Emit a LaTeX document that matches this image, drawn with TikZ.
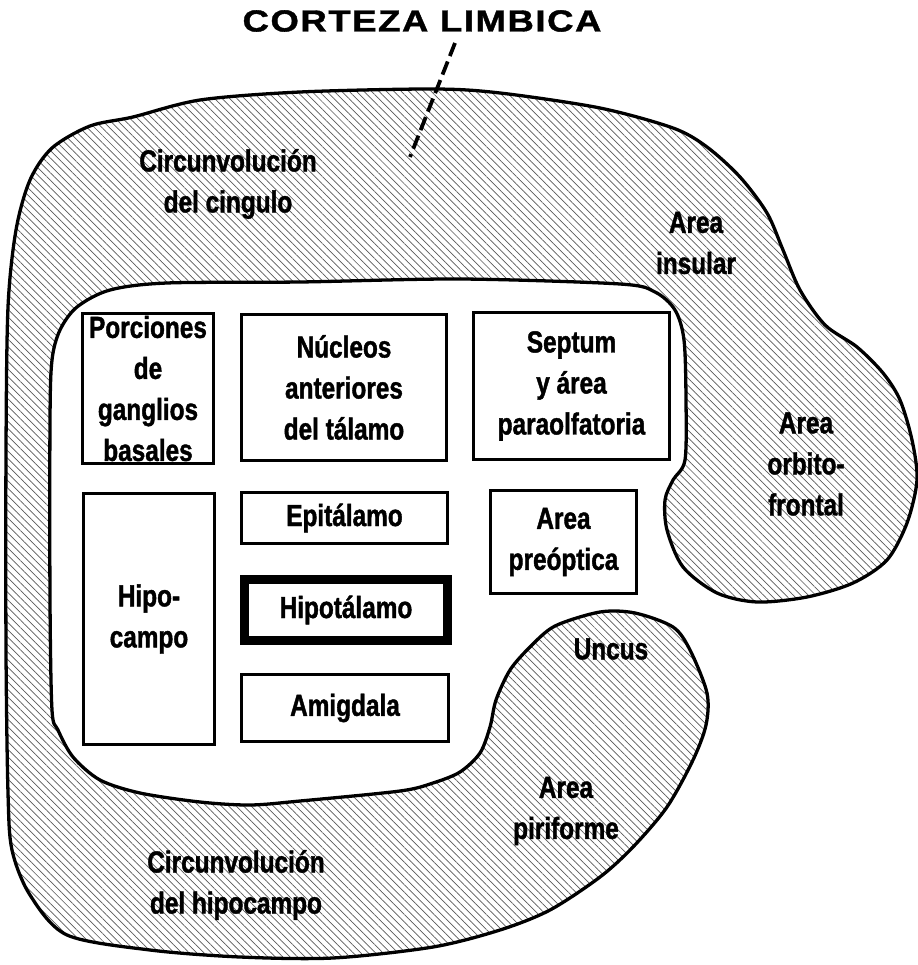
\documentclass[tikz,border=0pt]{standalone}
\usepackage{fontspec}
\setmainfont{Liberation Sans}[FakeStretch=0.8, BoldFeatures={FakeBold=1.3}]
\newfontfamily\capfont{Liberation Sans}[FakeStretch=1.2, LetterSpace=5, BoldFeatures={FakeBold=1.3}]
\usetikzlibrary{patterns.meta}

\begin{document}
\begin{tikzpicture}[
  x=0.03cm, y=-0.03cm,
  txt/.style={font=\bfseries\fontsize{26}{35}\selectfont, align=center, inner sep=0pt},
  box/.style={txt, draw, line width=2.4pt},
  core/.style={box, line width=7.6pt},
  cortex/.style={draw, line width=2.8pt, line join=round,
    pattern={Lines[angle=-45, distance=4.5pt, line width=0.6pt]}, pattern color=black!65},
  pointer/.style={draw, line width=3.2pt, dash pattern=on 12pt off 5pt},
]
\useasboundingbox (0,0) rectangle (917,965);

% ---------------- the limbic band ----------------
\path[cortex] plot[smooth cycle, tension=0.5] coordinates {
  % outer rim: uncus, hippocampal gyrus, cingulate gyrus, insula, orbital lobe
  (600,612) (635,613) (673,627) (690,650) (707,693) (706,725) (693,760)
  (667,807) (633,847) (600,877) (550,910) (500,930) (433,947) (333,958)
  (240,957) (150,950) (67,935) (30,895) (12,850) (8,793) (6,650) (6,450)
  (8,307) (16,230) (30,180) (52,148) (90,126) (133,117) (200,100) (300,92)
  (433,89) (500,93) (600,108) (673,128) (707,147) (740,177) (767,213)
  (783,250) (800,290) (825,325) (857,347) (883,373) (900,400) (912,440)
  (917,480) (907,523) (887,560) (853,583) (807,597) (757,602) (717,593)
  (683,567) (667,530) (665,500) (673,480) (685,460)
  % inner rim, back to the uncus
  (686,400) (684,340) (675,310) (655,292) (620,284) (460,279) (300,282)
  (167,283) (110,290) (77,307) (60,330) (52,360) (50,420) (50,600)
  (52,710) (58,730) (73,757) (100,780) (140,793) (200,802) (250,805)
  (300,801) (400,791) (433,783) (460,772) (480,753) (490,727) (496,700)
  (510,670) (530,647) (555,626)
};

\node[txt] (cingulo)   at (228,184) {Circunvolución\\del cingulo};
\node[txt] (insular)   at (696,243) {Area\\insular};
\node[txt] (orbital)   at (806,464) {Area\\orbito-\\frontal};
\node[txt] (uncus)     at (611,649) {Uncus};
\node[txt] (piriforme) at (566,811) {Area\\piriforme};
\node[txt] (hipogiro)  at (236,885) {Circunvolución\\del hipocampo};

% ---------------- title and pointer ----------------
\node[txt] (corteza) at (422,21) {\capfont CORTEZA LIMBICA};
\coordinate (ptrtop) at (455,43);
\coordinate (ptrend) at (410,157);
\draw[pointer] (ptrtop) -- (ptrend);

% ---------------- the boxes inside ----------------
\node[box, minimum width=3.93cm, minimum height=4.50cm] (ganglios)  at (148,388.5) {Porciones\\de\\ganglios\\basales};
\node[box, minimum width=6.15cm, minimum height=4.38cm] (nucleos)   at (344,387.5) {Núcleos\\anteriores\\del tálamo};
\node[box, minimum width=5.88cm, minimum height=4.41cm] (septum)    at (571.5,386) {Septum\\y área\\paraolfatoria};
\node[box, minimum width=3.93cm, minimum height=7.53cm] (hipocampo) at (149,619)   {Hipo-\\campo};
\node[box, minimum width=6.18cm, minimum height=1.53cm] (epitalamo) at (344.5,518) {Epitálamo};
\node[box, minimum width=4.38cm, minimum height=3.09cm] (preoptica) at (563.5,542) {Area\\preóptica};
\node[core, minimum width=6.09cm, minimum height=1.83cm] (hipotalamo) at (346,610) {Hipotálamo};
\node[box, minimum width=6.21cm, minimum height=2.01cm] (amigdala)  at (345,708)   {Amigdala};

\end{tikzpicture}
\end{document}
